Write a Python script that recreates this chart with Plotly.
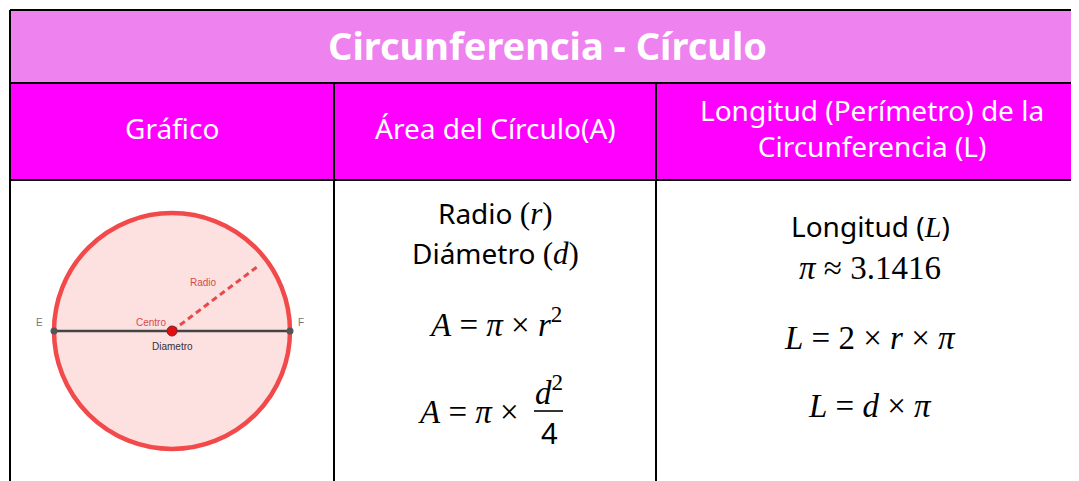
import math
import plotly.graph_objects as go

W, H = 1079, 481
OFF = 8  # default page body margin in the written html

# ---- table content ----
title = "Circunferencia - Círculo"
headers = ["Gráfico", "Área del Círculo(A)", "Longitud (Perímetro) de la<br>Circunferencia (L)"]
SERIF = "Liberation Serif"
def m(s, size=31):
    return f"<span style='font-family:{SERIF};font-size:{size}px'>{s}</span>"

area_lines = [
    "Radio " + m("(<i>r</i>)"),
    "Diámetro " + m("(<i>d</i>)"),
]
area_formula1 = "<i>A</i> = <i>π</i> × <i>r</i><sup>2</sup>"
area_formula2_left = "<i>A</i> = <i>π</i> ×"
area_frac_num = "<i>d</i><sup>2</sup>"
area_frac_den = "4"
long_lines = ["Longitud (" + m("<i>L</i>", 30) + ")"]
long_pi = "<i>π</i> ≈ 3.1416"
long_formula1 = "<i>L</i> = 2 × <i>r</i> × <i>π</i>"
long_formula2 = "<i>L</i> = <i>d</i> × <i>π</i>"

# ---- diagram (unit circle coordinates) ----
diam_x = [-1.0, 1.0]
diam_y = [0.0, 0.0]
radius_angle_deg = 37
radius_len = 0.93
diagram_labels = ["Radio", "Centro", "Diametro", "E", "F"]
diagram_label_x = [0.27, -0.18, 0.0, -1.12, 1.09]
diagram_label_y = [0.41, 0.07, -0.13, 0.07, 0.07]
diagram_label_col = ["#d84a4a", "#d84a4a", "#333333", "#777777", "#777777"]

# ---- layout geometry (pixels in the page) ----
L, T = 10, 10
R = W + 20
y_row1, y_row2 = 83, 180
col_x = [334, 656]
cx_pix = [172, 495, 870]

fig = go.Figure()

shapes = []
shapes.append(dict(type="rect", xref="x", yref="y", x0=L, x1=R, y0=T, y1=y_row1,
                   fillcolor="#EE82EE", line=dict(width=0), layer="below"))
shapes.append(dict(type="rect", xref="x", yref="y", x0=L, x1=R, y0=y_row1, y1=y_row2,
                   fillcolor="#FF00FF", line=dict(width=0), layer="below"))
blk = dict(color="black", width=2)
shapes.append(dict(type="line", xref="x", yref="y", x0=L, x1=R, y0=T, y1=T, line=blk))
shapes.append(dict(type="line", xref="x", yref="y", x0=L, x1=L, y0=T, y1=H + 20, line=blk))
for yy in (y_row1, y_row2):
    shapes.append(dict(type="line", xref="x", yref="y", x0=L, x1=R, y0=yy, y1=yy, line=blk))
for xx in col_x:
    shapes.append(dict(type="line", xref="x", yref="y", x0=xx, x1=xx, y0=y_row1, y1=H + 20, line=blk))

# circle shape on diagram axes
shapes.append(dict(type="circle", xref="x2", yref="y2", x0=-1, x1=1, y0=-1, y1=1,
                   fillcolor="#fde0e0", line=dict(color="#f24a4a", width=4.5), layer="below"))

# fraction bar
shapes.append(dict(type="line", xref="x", yref="y", x0=534, x1=563, y0=411, y1=411,
                   line=dict(color="black", width=1.6)))

ann = []
def A(x, y, text, size, color="black", family="Noto Sans", xanchor="center", **kw):
    ann.append(dict(x=x, y=y, xref="x", yref="y", text=text, showarrow=False,
                    font=dict(size=size, color=color, family=family),
                    xanchor=xanchor, yanchor="middle", **kw))

A(547, 45, "<b>" + title + "</b>", 38, "white")
A(cx_pix[0], 128, headers[0], 28, "white")
A(cx_pix[1], 128, headers[1], 28, "white")
A(872, 128, headers[2], 28, "white")

A(cx_pix[1], 213, area_lines[0], 28)
A(cx_pix[1], 253, area_lines[1], 28)
A(cx_pix[1], 322, area_formula1, 33, family=SERIF)
A(521, 412, area_formula2_left, 33, family=SERIF, xanchor="right")
A(549, 390, area_frac_num, 33, family=SERIF)
A(549, 432, area_frac_den, 29, family="Noto Sans")

A(cx_pix[2], 226, long_lines[0], 28)
A(cx_pix[2], 268, long_pi, 33, family=SERIF)
A(cx_pix[2], 338, long_formula1, 33, family=SERIF)
A(cx_pix[2], 406, long_formula2, 33, family=SERIF)

for t, x, y, c in zip(diagram_labels, diagram_label_x, diagram_label_y, diagram_label_col):
    ann.append(dict(x=x, y=y, xref="x2", yref="y2", text=t, showarrow=False,
                    font=dict(size=10, color=c, family="Liberation Sans")))

# diagram traces
ra = math.radians(radius_angle_deg)
fig.add_trace(go.Scatter(x=[0, radius_len * math.cos(ra)], y=[0, radius_len * math.sin(ra)],
                         xaxis="x2", yaxis="y2", mode="lines",
                         line=dict(color="#e84a4a", width=3, dash="6px,4px"), hoverinfo="skip"))
fig.add_trace(go.Scatter(x=diam_x, y=diam_y, xaxis="x2", yaxis="y2", mode="lines+markers",
                         line=dict(color="#444444", width=2.5),
                         marker=dict(size=7, color="#555555"), hoverinfo="skip"))
fig.add_trace(go.Scatter(x=[0], y=[0], xaxis="x2", yaxis="y2", mode="markers",
                         marker=dict(size=10, color="#e01010", line=dict(color="#802020", width=1)),
                         hoverinfo="skip"))

# diagram axes domain from pixel centre/radius (page pixels -> figure paper)
ccx, ccy, rpx, span = 172 - OFF, 331 - OFF, 118, 1.2
half = rpx * span
xdom = [(ccx - half) / W, (ccx + half) / W]
ydom = [(H - ccy - half) / H, (H - ccy + half) / H]

fig.update_layout(
    width=W, height=H, margin=dict(l=0, r=0, t=0, b=0),
    paper_bgcolor="white", plot_bgcolor="rgba(0,0,0,0)", showlegend=False,
    xaxis=dict(range=[OFF, W + OFF], visible=False, domain=[0, 1], fixedrange=True),
    yaxis=dict(range=[H + OFF, OFF], visible=False, domain=[0, 1], fixedrange=True),
    xaxis2=dict(range=[-span, span], visible=False, domain=xdom, anchor="y2"),
    yaxis2=dict(range=[-span, span], visible=False, domain=ydom, anchor="x2"),
    shapes=shapes, annotations=ann,
)
fig.write_html("out.html")
